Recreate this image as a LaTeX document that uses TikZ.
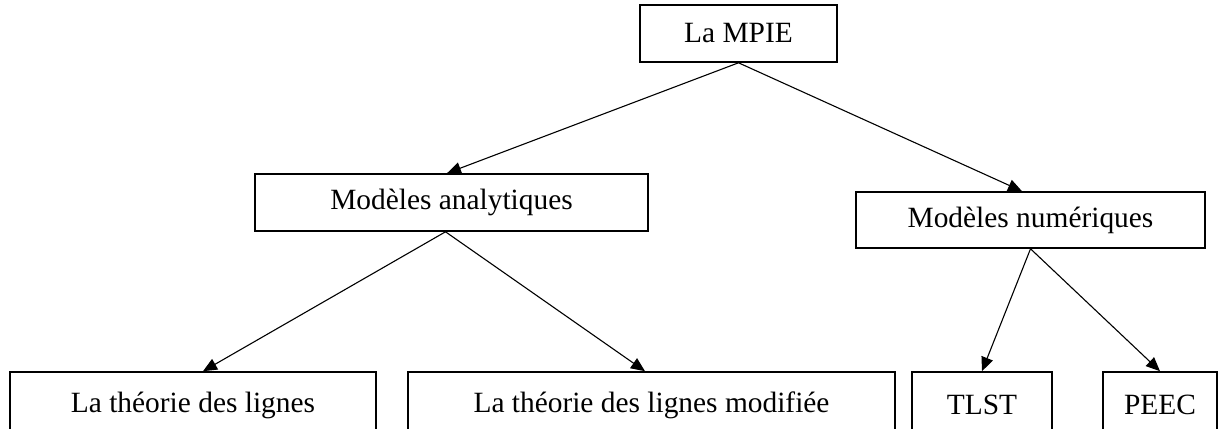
\documentclass[tikz,border=0pt]{standalone}
\usepackage{fontspec}
\setmainfont{Liberation Serif}
\usetikzlibrary{arrows.meta}
\begin{document}
\begin{tikzpicture}[x=0.5pt,y=-0.5pt,
  box/.style={draw, line width=0.8pt, rectangle, inner sep=0pt, font=\fontsize{14.7}{17}\selectfont},
  link/.style={line width=0.55pt, -{Triangle[length=7pt,width=6pt]}}]
\useasboundingbox (0,0) rectangle (1219,428);
\clip (0,0) rectangle (1219,428);
\node[box, minimum width=98.5pt, minimum height=28.5pt] (mpie) at (738.5,33.5) {La MPIE};
\node[box, minimum width=196.5pt, minimum height=28.5pt] (ana) at (451.5,202.5) {Modèles analytiques};
\node[box, minimum width=174.5pt, minimum height=28pt] (num) at (1030.5,220) {Modèles numériques};
\node[box, minimum width=183pt, minimum height=33pt] (l1) at (193,405) {La théorie des lignes};
\node[box, minimum width=243.5pt, minimum height=33pt] (l2) at (651.5,405) {La théorie des lignes modifiée};
\node[box, minimum width=70pt, minimum height=33pt] (tlst) at (982,405) {TLST};
\node[box, minimum width=57pt, minimum height=33pt] (peec) at (1160,405) {PEEC};
\draw[link] (mpie.south) -- ([xshift=-2.25pt]ana.north);
\draw[link] (mpie.south) -- ([xshift=-4.25pt]num.north);
\draw[link] ([xshift=-3pt]ana.south) -- ([xshift=5pt]l1.north);
\draw[link] ([xshift=-3pt]ana.south) -- ([xshift=-3.25pt]l2.north);
\draw[link] (num.south) -- (tlst.north);
\draw[link] (num.south) -- (peec.north);
\end{tikzpicture}
\end{document}
